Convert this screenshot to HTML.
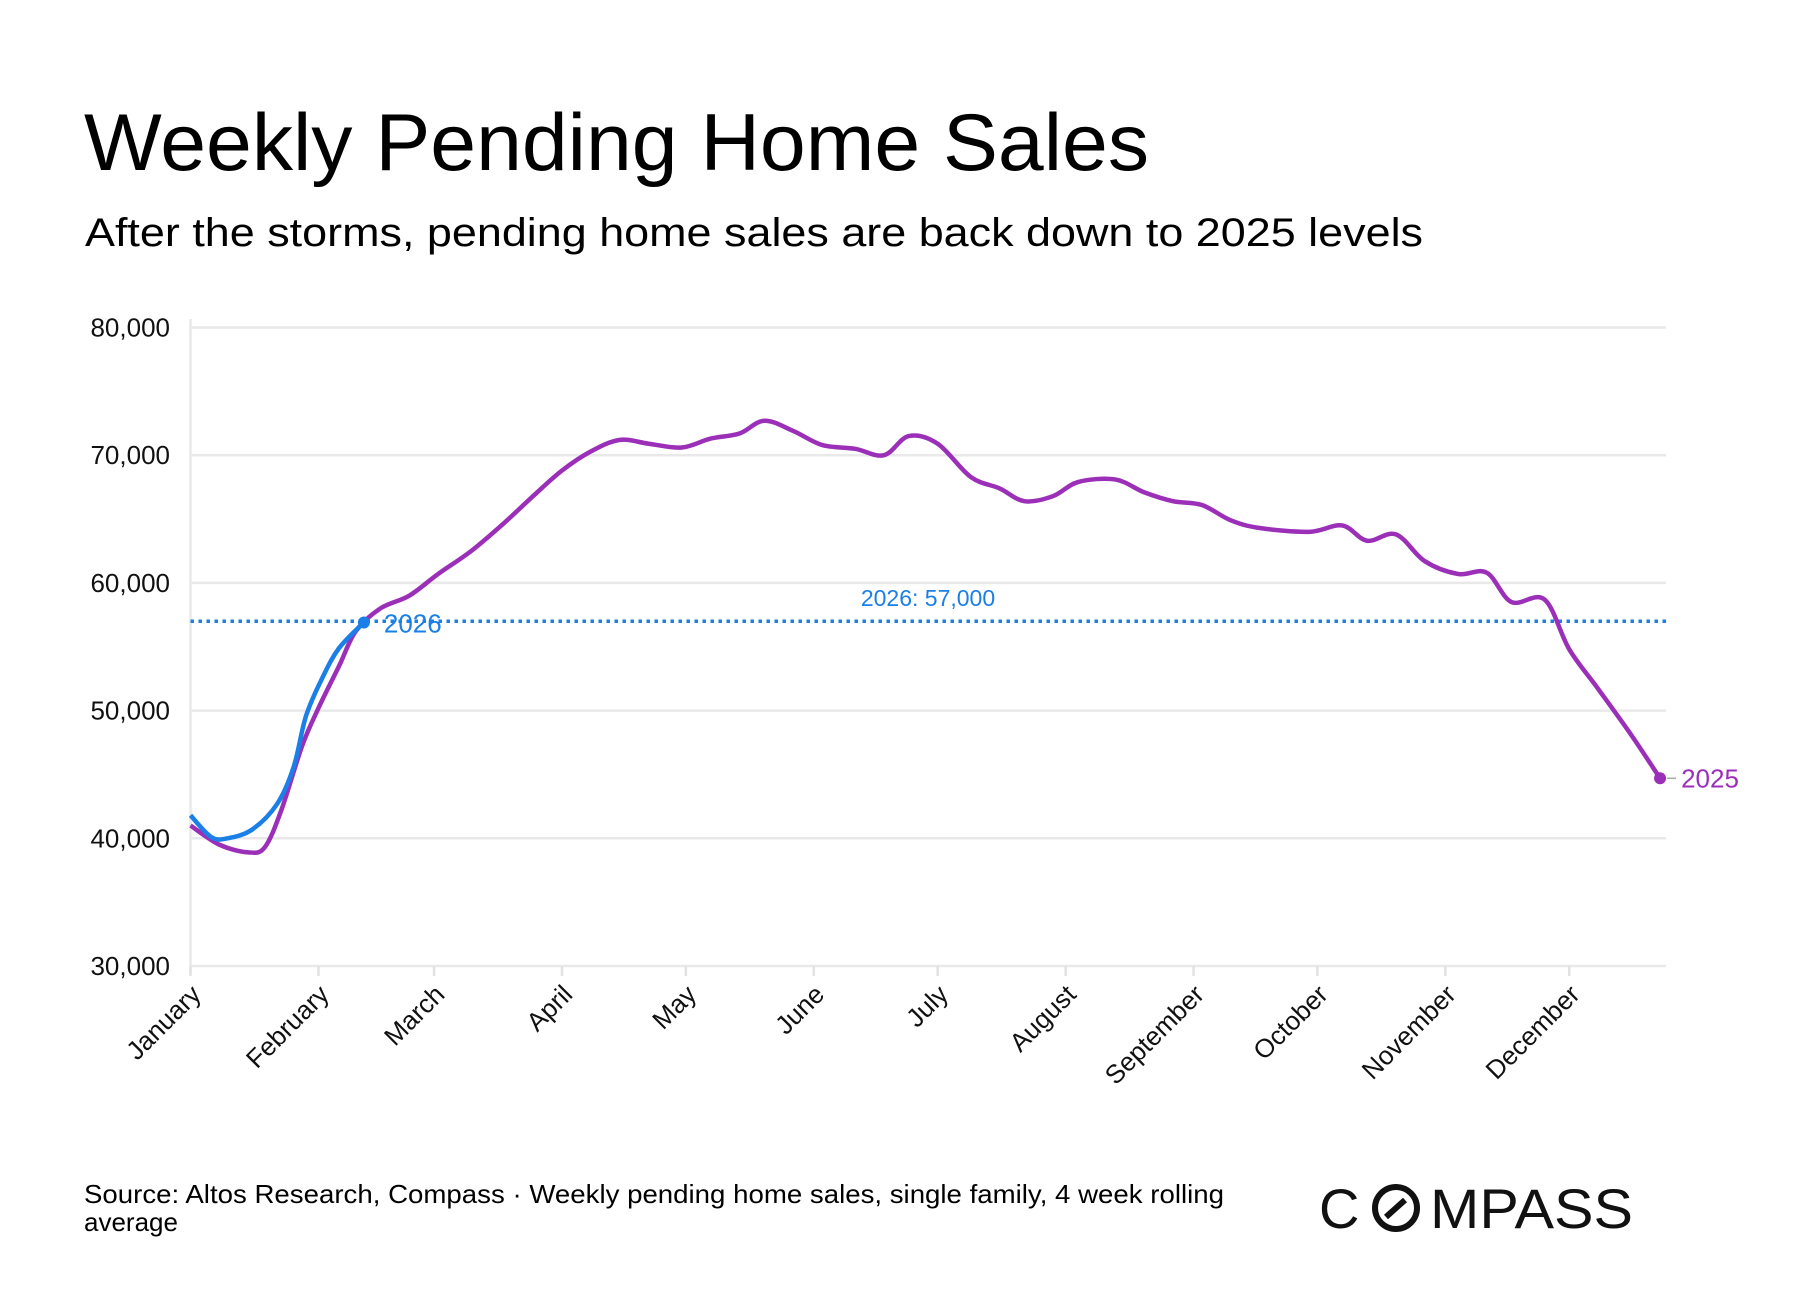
<!DOCTYPE html>
<html><head><meta charset="utf-8"><style>
html,body{margin:0;padding:0;background:#fff;}
svg{display:block;font-family:"Liberation Sans",sans-serif;}
</style></head><body>
<svg id="chart" width="1800" height="1300" viewBox="0 0 1800 1300">
<rect width="1800" height="1300" fill="#fff"/>
<text x="84" y="170" font-size="81" fill="#000" textLength="1065" lengthAdjust="spacingAndGlyphs">Weekly Pending Home Sales</text>
<text x="85" y="246" font-size="40" fill="#000" textLength="1338" lengthAdjust="spacingAndGlyphs">After the storms, pending home sales are back down to 2025 levels</text>
<g id="grid"></g>
<g id="axes"></g>
<g id="series"></g>
<text x="84" y="1203" font-size="26" fill="#000" textLength="1140" lengthAdjust="spacingAndGlyphs">Source: Altos Research, Compass · Weekly pending home sales, single family, 4 week rolling</text>
<text x="84" y="1231" font-size="26" fill="#000">average</text>
<g>
<text x="1319" y="1228" font-size="56" fill="#111">C</text>
<circle cx="1396" cy="1208" r="21" fill="none" stroke="#111" stroke-width="6"/>
<line x1="1386" y1="1217" x2="1405" y2="1200" stroke="#111" stroke-width="6"/>
<text x="1430" y="1228" font-size="56" fill="#111" textLength="203" lengthAdjust="spacingAndGlyphs">MPASS</text>
</g>
</svg>
<script>
const days2025 = [0,7,14,18,22,27,31,36,40,46,53,60,68,76,83,90,97,104,111,119,126,133,139,146,153,161,168,174,181,189,196,202,209,215,224,231,238,245,252,259,271,279,285,292,299,307,314,320,328,334,341,349,356];
const values2025 = [41.0,39.5,38.9,39.3,42.2,47.2,50.2,53.5,56.2,58.0,59.0,60.7,62.5,64.7,66.8,68.8,70.3,71.2,70.9,70.6,71.3,71.7,72.7,71.9,70.8,70.5,70.0,71.5,70.9,68.3,67.4,66.4,66.8,67.9,68.1,67.1,66.4,66.1,64.9,64.3,64.0,64.5,63.3,63.8,61.7,60.7,60.8,58.5,58.7,54.8,51.7,48.1,44.7];
const days2026 = [0,5,9,15,21,25,28,32,36,42];
const values2026 = [41.8,40.1,40.0,40.7,42.7,45.6,49.6,52.6,54.9,56.9];
const yTicks = [30,40,50,60,70,80];
const yTickLabels = ["30,000","40,000","50,000","60,000","70,000","80,000"];
const months = ["January","February","March","April","May","June","July","August","September","October","November","December"];
const monthStartDays = [0,31,59,90,120,151,181,212,243,273,304,334];
const refValue = 57.0;

const NS="http://www.w3.org/2000/svg";
const X0=190.5, X1=1666, Y0=966, Y1=327.5;
function xs(d){return X0 + d*4.128;}
function ys(v){return Y0 - (v-30)/50*(Y0-Y1);}
function mk(tag,attrs,parent){const e=document.createElementNS(NS,tag);for(const k in attrs)e.setAttribute(k,attrs[k]);parent.appendChild(e);return e;}
const grid=document.getElementById('grid'), axes=document.getElementById('axes'), series=document.getElementById('series');

yTicks.forEach((t,i)=>{
  const l=mk('line',{x1:X0,x2:X1,y1:ys(t),y2:ys(t),stroke:'#e9e9e9','stroke-width':2.5},grid);
  
  
  const tx=mk('text',{x:170,y:ys(t)+9,'font-size':26,'text-anchor':'end',fill:'#111'},axes);
  tx.textContent=yTickLabels[i];
  
  
});
const ax=mk('line',{x1:X0,x2:X0,y1:319,y2:Y0+8,stroke:'#e9e9e9','stroke-width':2.5},axes);


months.forEach((m,i)=>{
  const x=xs(monthStartDays[i]);
  const tk=mk('line',{x1:x,x2:x,y1:Y0,y2:Y0+10,stroke:'#e2e2e2','stroke-width':2.5},axes);
  
  
  const tx=mk('text',{x:x+12,y:Y0+30,'font-size':26,'text-anchor':'end',fill:'#111',transform:`rotate(-45 ${x+12} ${Y0+30})`},axes);
  tx.textContent=m;
  
  
});

function pathFor(ds,vs){
  const p=ds.map((d,i)=>[xs(d),ys(vs[i])]);
  let s=`M${p[0][0]},${p[0][1]}`;
  for(let i=0;i<p.length-1;i++){
    const a=p[Math.max(0,i-1)],b=p[i],c=p[i+1],d=p[Math.min(p.length-1,i+2)];
    const c1=[b[0]+(c[0]-a[0])/6,b[1]+(c[1]-a[1])/6],c2=[c[0]-(d[0]-b[0])/6,c[1]-(d[1]-b[1])/6];
    s+=` C${c1[0]},${c1[1]} ${c2[0]},${c2[1]} ${c[0]},${c[1]}`;
  }
  return s;
}
const ref=mk('line',{x1:X0,x2:X1,y1:ys(refValue),y2:ys(refValue),stroke:'#1a7fe6','stroke-width':3.5,'stroke-dasharray':'3.5 4.5'},series);


const refLbl=mk('text',{x:928,y:ys(refValue)-15,'font-size':23,'text-anchor':'middle',fill:'#1a7fe6'},series);
refLbl.textContent='2026: '+(refValue*1000).toLocaleString('en-US');



const p25=mk('path',{d:pathFor(days2025,values2025),fill:'none',stroke:'#9b2fb8','stroke-width':4.5,'stroke-linejoin':'round'},series);


const p26=mk('path',{d:pathFor(days2026,values2026),fill:'none',stroke:'#1a7fe6','stroke-width':4.5,'stroke-linejoin':'round'},series);



const l25x=xs(days2025[days2025.length-1]), l25y=ys(values2025[values2025.length-1]);
const d25=mk('circle',{cx:l25x,cy:l25y,r:6,fill:'#9b2fb8'},series);


const dash=mk('line',{x1:l25x+7,x2:l25x+16,y1:l25y,y2:l25y,stroke:'#aaa','stroke-width':1.5},series);


const t25=mk('text',{x:l25x+21,y:l25y+9,'font-size':26,fill:'#9b2fb8'},series);
t25.textContent='2025';



const l26x=xs(days2026[days2026.length-1]), l26y=ys(values2026[values2026.length-1]);
const d26=mk('circle',{cx:l26x,cy:l26y,r:6,fill:'#1a7fe6'},series);


const t26=mk('text',{x:l26x+20,y:l26y+10,'font-size':26,fill:'#1a7fe6'},series);
t26.textContent='2026';


</script>
</body></html>
